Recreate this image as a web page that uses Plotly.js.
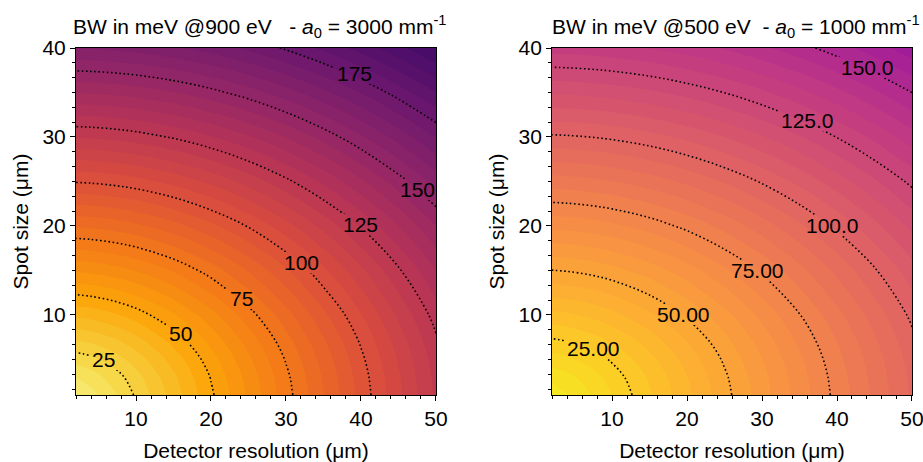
<!DOCTYPE html>
<html><head><meta charset="utf-8">
<script src="https://cdn.plot.ly/plotly-3.0.1.min.js"></script>
<style>html,body{margin:0;padding:0;background:#fff}</style>
</head><body><div id="chart" style="width:923px;height:462px"></div>
<script>
// Detector resolution (µm) grid columns
const detectorRes = [2, 4, 7, 10, 15, 20, 25, 30, 35, 40, 45, 50];
// Spot size (µm) grid rows
const spotSize = [1, 3, 5, 7, 10, 15, 20, 25, 30, 35, 40];

// BW in meV @900 eV, a0 = 3000 mm^-1 (rows = spot size, cols = detector resolution)
const bw900 = [
  [10.16, 13.15, 19.09, 25.71, 37.24, 49.02, 60.91, 72.85, 84.82, 96.81, 108.82, 120.83],
  [15.21, 17.35, 22.19, 28.09, 38.92, 50.31, 61.95, 73.72, 85.57, 97.47, 109.40, 121.36],
  [22.07, 23.60, 27.36, 32.32, 42.08, 52.79, 63.99, 75.44, 87.06, 98.78, 110.57, 122.41],
  [29.52, 30.67, 33.65, 37.80, 46.42, 56.31, 66.92, 77.94, 89.24, 100.70, 112.29, 123.97],
  [41.08, 41.92, 44.14, 47.38, 54.51, 63.14, 72.76, 83.01, 93.70, 104.68, 115.87, 127.22],
  [60.72, 61.29, 62.84, 65.15, 70.50, 77.38, 85.41, 94.29, 103.82, 113.83, 124.20, 134.85],
  [80.54, 80.98, 82.15, 83.93, 88.15, 93.74, 100.47, 108.13, 116.53, 125.53, 135.00, 144.86],
  [100.44, 100.78, 101.73, 103.17, 106.63, 111.30, 117.02, 123.66, 131.07, 139.13, 147.73, 156.79],
  [120.36, 120.65, 121.44, 122.66, 125.58, 129.57, 134.51, 140.33, 146.90, 154.13, 161.94, 170.25],
  [140.31, 140.56, 141.24, 142.28, 144.81, 148.28, 152.62, 157.77, 163.64, 170.17, 177.27, 184.89],
  [160.27, 160.49, 161.09, 162.00, 164.23, 167.29, 171.15, 175.76, 181.05, 186.97, 193.46, 200.46]
];

// BW in meV @500 eV, a0 = 1000 mm^-1
const bw500 = [
  [7.11, 9.72, 14.66, 20.04, 29.30, 38.71, 48.17, 57.67, 67.19, 76.71, 86.25, 95.79],
  [11.73, 13.47, 17.38, 22.10, 30.75, 39.82, 49.07, 58.42, 67.83, 77.28, 86.75, 96.24],
  [17.66, 18.86, 21.83, 25.75, 33.46, 41.95, 50.81, 59.90, 69.11, 78.40, 87.75, 97.14],
  [23.94, 24.84, 27.16, 30.40, 37.16, 44.95, 53.32, 62.04, 70.97, 80.05, 89.23, 98.48],
  [33.59, 34.24, 35.96, 38.47, 44.01, 50.76, 58.30, 66.36, 74.78, 83.45, 92.29, 101.26],
  [49.90, 50.34, 51.52, 53.30, 57.43, 62.75, 68.99, 75.93, 83.39, 91.24, 99.39, 107.77],
  [66.30, 66.63, 67.53, 68.90, 72.14, 76.44, 81.64, 87.59, 94.12, 101.14, 108.55, 116.28],
  [82.74, 83.00, 83.73, 84.83, 87.49, 91.07, 95.48, 100.61, 106.35, 112.61, 119.31, 126.38],
  [99.20, 99.42, 100.03, 100.95, 103.19, 106.25, 110.05, 114.53, 119.60, 125.20, 131.26, 137.71],
  [115.67, 115.86, 116.38, 117.18, 119.11, 121.77, 125.10, 129.06, 133.58, 138.62, 144.11, 150.02],
  [132.15, 132.32, 132.77, 133.47, 135.17, 137.52, 140.48, 144.01, 148.08, 152.64, 157.64, 163.06]
];

// Contour levels and where their labels sit (detector res, spot size)
const levels900 = [25, 50, 75, 100, 125, 150, 175];
const labelX900 = [5.6, 16.0, 24.1, 32.1, 40.0, 47.6, 39.1];
const labelY900 = [5.0, 7.9, 11.9, 15.9, 20.2, 24.1, 37.1];
const levels500 = [25, 50, 75, 100, 125, 150];
const labelX500 = [7.5, 19.5, 29.4, 39.4, 36.1, 44.1];
const labelY500 = [6.2, 10.1, 15.0, 20.1, 31.8, 37.8];

const titleLeft = 'BW in meV @900 eV\u00a0\u00a0\u00a0- <i>a</i><sub>0</sub> = 3000 mm<sup>-1</sup>';
const titleRight = 'BW in meV @500 eV\u00a0\u00a0- <i>a</i><sub>0</sub> = 1000 mm<sup>-1</sup>';
const xTitle = 'Detector resolution (μm)';
const yTitle = 'Spot size (μm)';

const infernoCS = [
  [0.0,'#000004'],[0.1,'#160b39'],[0.2,'#420a68'],[0.3,'#6a176e'],[0.4,'#932667'],
  [0.5,'#bc3754'],[0.6,'#dd513a'],[0.7,'#f37819'],[0.8,'#fca50a'],[0.9,'#f6d746'],[1.0,'#fcffa4']
];
const plasmaCS = [
  [0.0,'#0d0887'],[0.1,'#41049d'],[0.2,'#6a00a8'],[0.3,'#8f0da4'],[0.4,'#b12a90'],
  [0.5,'#cc4778'],[0.6,'#e16462'],[0.7,'#f2844b'],[0.8,'#fca636'],[0.9,'#fcce25'],[1.0,'#f0f921']
];
const FILL = {start: 0, end: 250, size: 5};

const FONT = 'Liberation Sans, Arial, Helvetica, sans-serif';
const FS = 21;

function fillTrace(z, cs, xa, ya) {
  return {
    type: 'contour', x: detectorRes, y: spotSize, z: z, xaxis: xa, yaxis: ya,
    colorscale: cs, reversescale: true, showscale: false, autocontour: false,
    contours: {start: FILL.start, end: FILL.end, size: FILL.size, coloring: 'fill', showlines: false},
    line: {width: 0, smoothing: 1}, hoverinfo: 'skip'
  };
}
function lineTrace(z, levels, xa, ya) {
  return {
    type: 'contour', x: detectorRes, y: spotSize, z: z, xaxis: xa, yaxis: ya,
    showscale: false, autocontour: false,
    contours: {start: levels[0], end: levels[levels.length-1], size: levels[1]-levels[0], coloring: 'none', showlabels: false},
    line: {color: '#000', width: 1.6, dash: '1.6px,2.6px', smoothing: 1}, hoverinfo: 'skip'
  };
}

const data = [
  fillTrace(bw900, infernoCS, 'x', 'y'),
  lineTrace(bw900, levels900, 'x', 'y'),
  fillTrace(bw500, plasmaCS, 'x2', 'y2'),
  lineTrace(bw500, levels500, 'x2', 'y2')
];

function labelAnns(levels, lx, ly, fmt, xr, yr) {
  return levels.map((lv, i) => ({
    text: fmt(lv), x: lx[i], y: ly[i], xref: xr, yref: yr, showarrow: false,
    xanchor: 'center', yanchor: 'middle', borderpad: 0,
    font: {family: FONT, size: FS, color: '#000'}
  }));
}

function xAxis(domain, anchor) {
  return {
    domain: domain, anchor: anchor, range: [2, 50], tick0: 0, dtick: 10,
    ticks: 'outside', ticklen: 5, tickwidth: 1, tickcolor: '#000',
    minor: {tick0: 0, dtick: 2, ticks: 'outside', ticklen: 3, tickwidth: 1, tickcolor: '#000', showgrid: false},
    showline: true, linecolor: '#000', linewidth: 1, mirror: true,
    showgrid: false, zeroline: false, ticklabeloverflow: 'allow',
    tickfont: {family: FONT, size: FS, color: '#000'},
    title: {text: xTitle, font: {family: FONT, size: FS, color: '#000'}, standoff: 17}
  };
}
function yAxis(anchor) {
  return {
    anchor: anchor, range: [1, 40], tick0: 0, dtick: 10,
    ticks: 'outside', ticklen: 5, tickwidth: 1, tickcolor: '#000',
    minor: {tick0: 0, dtick: 10/6, ticks: 'outside', ticklen: 3, tickwidth: 1, tickcolor: '#000', showgrid: false},
    showline: true, linecolor: '#000', linewidth: 1, mirror: true,
    showgrid: false, zeroline: false,
    tickfont: {family: FONT, size: FS, color: '#000'},
    title: {text: yTitle, font: {family: FONT, size: FS, color: '#000'}, standoff: 8}
  };
}

const annotations = [
  {text: titleLeft, xref: 'paper', yref: 'paper', x: 0.219, y: 1, xanchor: 'center', yanchor: 'bottom',
   yshift: 5, showarrow: false, font: {family: FONT, size: FS, color: '#000'}},
  {text: titleRight, xref: 'paper', yref: 'paper', x: 0.79, y: 1, xanchor: 'center', yanchor: 'bottom',
   yshift: 5, showarrow: false, font: {family: FONT, size: FS, color: '#000'}}
].concat(
  labelAnns(levels900, labelX900, labelY900, v => String(v), 'x', 'y'),
  labelAnns(levels500, labelX500, labelY500, v => Number(v).toPrecision(4), 'x2', 'y2')
);

const layout = {
  width: 923, height: 462,
  margin: {l: 76, r: 11, t: 48, b: 67},
  paper_bgcolor: '#fff', plot_bgcolor: '#fff',
  font: {family: FONT, size: FS, color: '#000'},
  showlegend: false,
  xaxis: xAxis([0, 0.4306], 'y'),
  yaxis: yAxis('x'),
  xaxis2: xAxis([0.5694, 1], 'y2'),
  yaxis2: yAxis('x2'),
  annotations: annotations
};

// break the dotted contour lines under their labels
function gapLinesUnderLabels(gd) {
  const ns = 'http://www.w3.org/2000/svg';
  const svg = gd.querySelector('svg.main-svg');
  let defs = svg.querySelector('defs');
  if (!defs) { defs = document.createElementNS(ns, 'defs'); svg.insertBefore(defs, svg.firstChild); }
  const labels = Array.from(gd.querySelectorAll('g.annotation')).slice(2);
  const boxes = labels.map(a => a.querySelector('text').getBoundingClientRect());
  gd.querySelectorAll('g.contourlines').forEach((g, gi) => {
    const inv = g.getScreenCTM().inverse();
    const mask = document.createElementNS(ns, 'mask');
    mask.setAttribute('id', 'lblgap' + gi);
    mask.setAttribute('maskUnits', 'userSpaceOnUse');
    mask.setAttribute('x', -3000); mask.setAttribute('y', -3000);
    mask.setAttribute('width', 8000); mask.setAttribute('height', 8000);
    const mk = (x, y, w, h, f) => {
      const r = document.createElementNS(ns, 'rect');
      r.setAttribute('x', x); r.setAttribute('y', y);
      r.setAttribute('width', w); r.setAttribute('height', h); r.setAttribute('fill', f);
      mask.appendChild(r);
    };
    mk(-3000, -3000, 8000, 8000, '#fff');
    boxes.forEach(b => {
      const p = svg.createSVGPoint();
      p.x = b.left - 3; p.y = b.top + 1;
      const q1 = p.matrixTransform(inv);
      p.x = b.right + 3; p.y = b.bottom - 1;
      const q2 = p.matrixTransform(inv);
      mk(Math.min(q1.x, q2.x), Math.min(q1.y, q2.y), Math.abs(q2.x - q1.x), Math.abs(q2.y - q1.y), '#000');
    });
    defs.appendChild(mask);
    g.setAttribute('mask', 'url(#lblgap' + gi + ')');
  });
}

Plotly.newPlot('chart', data, layout, {staticPlot: true, displayModeBar: false}).then(gapLinesUnderLabels);
</script></body></html>
